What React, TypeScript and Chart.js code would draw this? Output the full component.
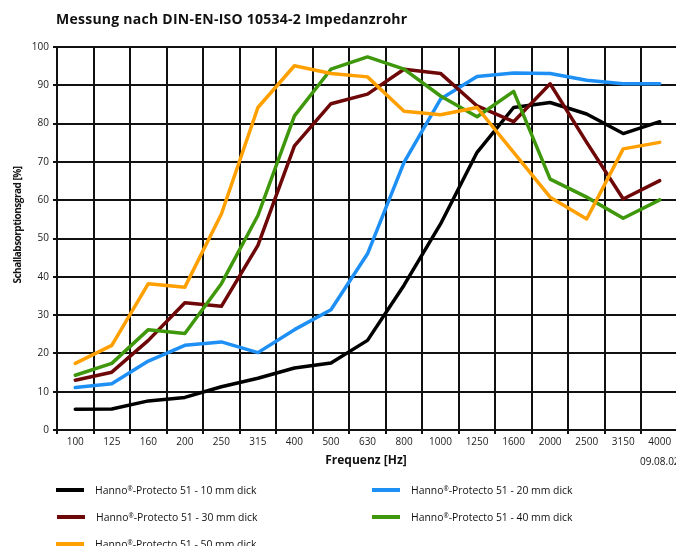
import React, { useEffect, useRef } from "react";
import { Chart, registerables } from "chart.js";

Chart.register(...registerables);

const TITLE = "Messung nach DIN-EN-ISO 10534-2 Impedanzrohr";
const Y_TITLE = "Schallabsorptionsgrad [%]";
const X_TITLE = "Frequenz [Hz]";
const DATE_TEXT = "09.08.02";

const frequencies = ["100", "125", "160", "200", "250", "315", "400", "500", "630", "800", "1000", "1250", "1600", "2000", "2500", "3150", "4000"];

const mm10 = [5.4, 5.5, 7.6, 8.5, 11.3, 13.5, 16.2, 17.5, 23.4, 37.8, 53.8, 72.5, 84.2, 85.5, 82.5, 77.4, 80.5];
const mm20 = [11.1, 12.1, 18.0, 22.1, 23.0, 20.2, 26.2, 31.4, 46.0, 69.9, 86.4, 92.3, 93.2, 93.1, 91.3, 90.4, 90.4];
const mm30 = [13.0, 15.1, 23.4, 33.2, 32.3, 48.2, 74.2, 85.2, 87.7, 94.2, 93.1, 84.6, 80.5, 90.4, 75.1, 60.3, 65.1];
const mm40 = [14.3, 17.4, 26.2, 25.2, 38.2, 56.0, 82.0, 94.2, 97.4, 94.2, 87.2, 81.8, 88.4, 65.5, 60.8, 55.3, 60.1];
const mm50 = [17.4, 22.1, 38.2, 37.3, 56.4, 84.2, 95.1, 93.1, 92.2, 83.2, 82.3, 84.2, 72.5, 60.8, 55.1, 73.4, 75.1];

const seriesNames = [
  "Hanno®-Protecto 51 - 10 mm dick",
  "Hanno®-Protecto 51 - 20 mm dick",
  "Hanno®-Protecto 51 - 30 mm dick",
  "Hanno®-Protecto 51 - 40 mm dick",
  "Hanno®-Protecto 51 - 50 mm dick",
];
const seriesValues = [mm10, mm20, mm30, mm40, mm50];
const seriesColors = ["#000000", "#1e90f5", "#6e0808", "#3f970c", "#ffa000"];

const yTicks = [0, 10, 20, 30, 40, 50, 60, 70, 80, 90, 100];

const FONT = "'Open Sans', 'Noto Sans', sans-serif";

// legend layout: [seriesIndex, left, centerY]
const legendLayout: [number, number, number][] = [
  [0, 56, 490],
  [1, 372, 490],
  [2, 57, 517],
  [3, 372, 517],
  [4, 56, 544],
];

function renderName(name: string) {
  const parts = name.split("®");
  if (parts.length < 2) return name;
  return (
    <>
      {parts[0]}
      <span style={{ fontSize: "0.6em", position: "relative", top: "-0.55em" }}>®</span>
      {parts.slice(1).join("®")}
    </>
  );
}

export default function App() {
  const ref = useRef<HTMLCanvasElement | null>(null);

  useEffect(() => {
    if (!ref.current) return;
    const chart = new Chart(ref.current, {
      type: "line",
      data: {
        labels: frequencies,
        datasets: seriesValues.map((vals, i) => ({
          label: seriesNames[i],
          data: vals,
          borderColor: seriesColors[i],
          backgroundColor: seriesColors[i],
          borderWidth: 3.5,
          pointRadius: 0,
          pointHoverRadius: 0,
          tension: 0,
          fill: false,
          borderJoinStyle: "round" as const,
          borderCapStyle: "round" as const,
          order: 4 - i,
        })),
      },
      options: {
        responsive: false,
        animation: false,
        events: [],
        layout: { padding: { left: 0, top: 47, right: 12, bottom: 0 } },
        plugins: {
          legend: { display: false },
          title: { display: false },
          tooltip: { enabled: false },
        },
        scales: {
          x: {
            type: "category",
            offset: true,
            grid: { color: "#111", lineWidth: 2, offset: true, tickLength: 4, drawTicks: true },
            border: { color: "#111", width: 2 },
            ticks: {
              font: { family: FONT, size: 10 },
              color: "#222",
              padding: 2,
              maxRotation: 0,
              autoSkip: false,
            },
            afterFit: (s: any) => {
              s.height = 116;
            },
          },
          y: {
            min: 0,
            max: 100,
            afterBuildTicks: (s: any) => {
              s.ticks = yTicks.map((v) => ({ value: v }));
            },
            grid: { color: "#111", lineWidth: 2, tickLength: 4, drawTicks: true },
            border: { color: "#111", width: 2 },
            ticks: {
              font: { family: FONT, size: 10 },
              color: "#222",
              padding: 4,
            },
            afterFit: (s: any) => {
              s.width = 57;
            },
          },
        },
      },
    });
    return () => chart.destroy();
  }, []);

  const textBase: React.CSSProperties = {
    position: "absolute",
    fontFamily: FONT,
    color: "#111",
    whiteSpace: "pre",
    lineHeight: "14px",
  };

  return (
    <div
      style={{
        position: "absolute",
        left: 0,
        top: 0,
        width: 676,
        height: 546,
        overflow: "hidden",
        background: "#fff",
      }}
    >
      <canvas ref={ref} width={690} height={546} style={{ position: "absolute", left: 0, top: 0, width: 690, height: 546 }} />
      <div style={{ ...textBase, left: 56, top: 10, fontSize: 14, letterSpacing: "0.25px", fontWeight: 700, lineHeight: "18px" }}>{TITLE}</div>
      <div
        style={{
          ...textBase,
          left: 17 - 100,
          top: 225 - 7,
          width: 200,
          textAlign: "center",
          fontSize: 10,
          letterSpacing: "-0.5px",
          fontWeight: 700,
          transform: "rotate(-90deg)",
        }}
      >
        {Y_TITLE}
      </div>
      <div style={{ ...textBase, left: 366 - 100, top: 460 - 8, width: 200, textAlign: "center", fontSize: 12, fontWeight: 700, lineHeight: "16px" }}>
        {X_TITLE}
      </div>
      <div style={{ ...textBase, left: 640, top: 461 - 7, fontSize: 10 }}>{DATE_TEXT}</div>
      {legendLayout.map(([idx, left, cy]) => (
        <React.Fragment key={idx}>
          <div
            style={{
              position: "absolute",
              left,
              top: cy - 2,
              width: 28,
              height: 4,
              background: seriesColors[idx],
            }}
          />
          <div style={{ ...textBase, left: left + 39, top: cy - 7, fontSize: 10.4 }}>{renderName(seriesNames[idx])}</div>
        </React.Fragment>
      ))}
    </div>
  );
}
